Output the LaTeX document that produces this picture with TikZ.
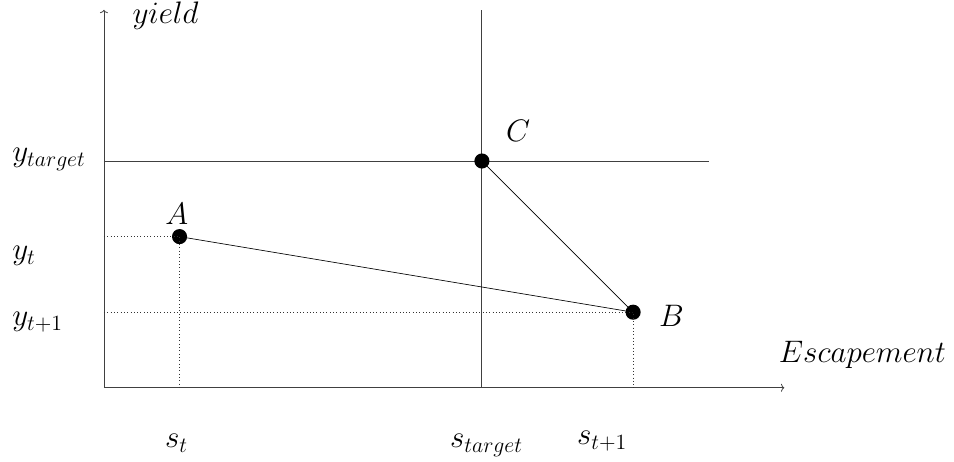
\documentclass[tikz,border=0pt]{standalone}
\usepackage{fix-cm}
\usetikzlibrary{arrows.meta}
\begin{document}
\begin{tikzpicture}[
  lbl/.style={inner sep=0pt,font=\fontsize{23.4}{28}\selectfont},
  dot/.style={circle,fill=black,inner sep=0pt,minimum size=0.4cm},
  axis/.style={draw=black!75,line width=0.6pt},
  guide/.style={draw=black!75,line width=0.7pt},
  seg/.style={draw=black,line width=0.5pt},
  drop/.style={draw=black!80,dotted,line width=0.5pt},
  tip/.style={-{To[length=2.5pt,width=6pt]}}
]
\useasboundingbox (-2.75,-1.96) rectangle (22.49,10.26);
% axes
\coordinate (O) at (0,0);
\coordinate (Xend) at (18,0);
\coordinate (Yend) at (0,10);
\draw[axis,tip] (O) -- (Xend);
\draw[axis,tip] (O) -- (Yend);
% target lines
\coordinate (Vtop) at (10,10);
\coordinate (Vbot) at (10,0);
\coordinate (Hl) at (0,6);
\coordinate (Hr) at (16,6);
\draw[guide] (Vbot) -- (Vtop);
\draw[guide] (Hl) -- (Hr);
% points
\node[dot] (A) at (2,4) {};
\node[dot] (B) at (14,2) {};
\node[dot] (C) at (10,6) {};
% dotted drops
\coordinate (Ay) at (0,4);
\coordinate (Ax) at (2,0);
\coordinate (By) at (0,2);
\coordinate (Bx) at (14,0);
\draw[drop] (Ay) -- (A.center) -- (Ax);
\draw[drop] (By) -- (B.center) -- (Bx);
% segments
\draw[seg] (A.center) -- (B.center);
\draw[seg] (C.center) -- (B.center);
% labels
\node[lbl,anchor=base west] (lyield) at (0.75,9.65) {$yield$};
\node[lbl,anchor=base west] (lesc) at (17.85,0.68) {$Escapement$};
\node[lbl,anchor=base west] (lyt) at (-2.43,5.98) {$y_{target}$};
\node[lbl,anchor=base west] (lyt1) at (-2.43,3.39) {$y_t$};
\node[lbl,anchor=base west] (lyt2) at (-2.43,1.64) {$y_{t+1}$};
\node[lbl,anchor=base west] (lst) at (1.61,-1.59) {$s_t$};
\node[lbl,anchor=base west] (lstar) at (9.15,-1.59) {$s_{target}$};
\node[lbl,anchor=base west] (lst1) at (12.51,-1.51) {$s_{t+1}$};
\node[lbl,anchor=base] (lA) at (1.93,4.31) {$A$};
\node[lbl,anchor=base west] (lB) at (14.68,1.61) {$B$};
\node[lbl,anchor=base west] (lC) at (10.63,6.51) {$C$};
\end{tikzpicture}
\end{document}
